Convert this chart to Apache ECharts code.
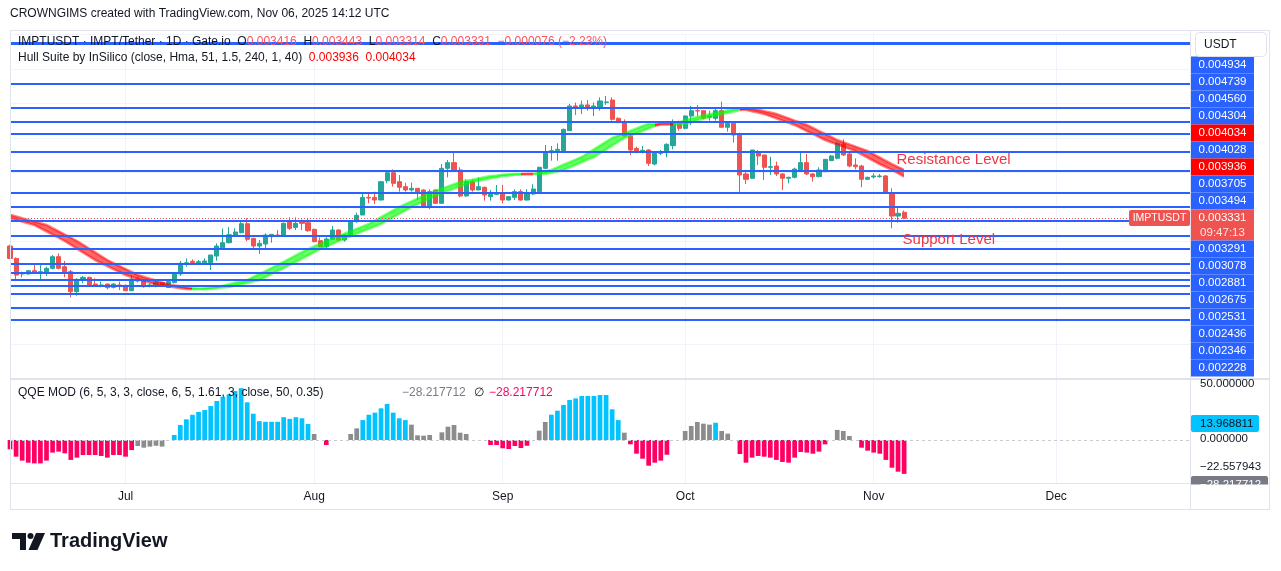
<!DOCTYPE html>
<html><head><meta charset="utf-8"><title>IMPTUSDT</title>
<script src="https://cdn.jsdelivr.net/npm/echarts@6.0.0/dist/echarts.min.js"></script>
<style>html,body{margin:0;padding:0;background:#fff;overflow:hidden}#chart{width:1281px;height:571px}</style>
</head><body><div id="chart"></div>
<script>
// ================= DATA (prices in micro-USDT, i.e. value x 1e-6) =================
const firstDay = [2025, 5, 12];   // 12 Jun 2025 (month is 0-based)
const dayCount = 195;             // axis runs to 23 Dec 2025
const monthNames = ['Jan','Feb','Mar','Apr','May','Jun','Jul','Aug','Sep','Oct','Nov','Dec'];

const openP = [
2926,2746,2519,2519,2567,2538,2528,2601,2771,2625,
2553,2262,2431,2470,2373,2344,2373,2325,2359,2354,
2276,2446,2431,2344,2344,2393,2325,2393,2519,2664,
2703,2683,2683,2683,2780,2900,2974,3072,3120,3250,
3037,2926,2955,3062,3086,3086,3280,3197,3290,3265,
3168,3004,2916,3023,3159,3013,3086,3280,3377,3634,
3634,3595,3876,3993,3862,3789,3741,3765,3741,3498,
3741,3547,4056,4139,4032,3654,3862,3741,3780,3644,
3678,3702,3595,3634,3717,3595,3683,3717,4056,4284,
4313,4299,4604,4963,4929,4978,4943,4929,5012,5050,
4783,4735,4527,4347,4308,4323,4119,4274,4284,4386,
4735,4638,4817,4895,4895,4798,4783,4895,4653,4711,
4541,3974,3911,4299,4250,4071,4090,3974,3911,3925,
4032,4139,3974,3935,4008,4168,4202,4410,4265,4105,
4090,3896,3930,3935,3945,3702,3362,3416];
const highP = [
2945,2760,2553,2575,2674,2649,2625,2795,2819,2708,
2577,2456,2490,2480,2456,2407,2378,2383,2407,2364,
2504,2480,2441,2383,2422,2402,2417,2538,2708,2746,
2732,2722,2746,2795,2965,3180,3200,3183,3304,3330,
3045,3013,3110,3096,3159,3265,3343,3343,3314,3328,
3178,3052,3052,3217,3168,3100,3304,3411,3692,3692,
3717,3872,4032,4041,3959,3847,3848,3770,3750,3750,
3750,4119,4177,4299,4071,3896,3896,3925,3790,3741,
3814,3814,3654,3751,3751,3751,3824,4080,4396,4381,
4420,4633,4992,5012,5041,5050,5012,5089,5109,5089,
4798,4769,4566,4371,4381,4333,4308,4323,4420,4769,
4750,4827,4963,4978,4895,4895,4929,5026,4720,4711,
4575,4032,4323,4323,4250,4226,4153,3984,3935,4066,
4299,4264,3984,4071,4187,4250,4444,4478,4284,4202,
4105,3935,3984,3974,3959,3765,3489,3443];
const lowP = [
2735,2421,2470,2510,2520,2441,2490,2586,2586,2470,
2179,2203,2383,2350,2344,2325,2296,2310,2286,2270,
2270,2393,2320,2325,2325,2335,2315,2383,2494,2625,
2649,2649,2659,2577,2712,2877,2965,3062,3110,2995,
2868,2810,2892,2974,3062,3076,3159,3159,3159,3134,
2980,2906,2892,3013,3004,2989,3052,3265,3377,3546,
3537,3590,3838,3789,3716,3716,3717,3595,3480,3460,
3537,3537,3925,4022,3634,3644,3717,3741,3586,3586,
3668,3547,3590,3595,3586,3586,3668,3717,4042,4167,
4167,4299,4604,4832,4846,4895,4817,4895,4978,4750,
4715,4517,4250,4274,4274,4090,4100,4250,4216,4333,
4604,4623,4686,4808,4769,4750,4750,4653,4590,4430,
3692,3828,3911,4105,3886,3959,3945,3741,3838,3911,
4008,3959,3862,3925,4003,4163,4187,4236,4071,4041,
3780,3886,3911,3920,3683,3183,3265,3314];
const closeP = [
2745,2504,2538,2567,2528,2553,2601,2771,2601,2528,
2262,2441,2470,2359,2354,2359,2320,2373,2344,2276,
2446,2417,2334,2359,2393,2344,2407,2519,2674,2683,
2683,2698,2708,2795,2926,2974,3090,3130,3250,3023,
2926,2965,3086,3096,3076,3256,3183,3256,3256,3149,
2989,2916,3028,3159,3013,3086,3294,3372,3634,3624,
3595,3862,3993,3838,3780,3741,3765,3692,3489,3717,
3547,4056,4139,4032,3654,3862,3741,3789,3668,3678,
3702,3595,3644,3717,3595,3683,3755,4071,4299,4313,
4333,4623,4963,4929,4978,4929,4963,5036,5022,4769,
4720,4527,4323,4299,4318,4129,4299,4299,4405,4735,
4638,4817,4895,4890,4783,4817,4895,4653,4711,4541,
3959,3896,4323,4235,4071,4080,3974,3911,3925,4046,
4139,3974,3935,4032,4187,4235,4420,4250,4090,4080,
3896,3925,3945,3945,3692,3362,3401,3331];

// Hull Suite: current hull (MHULL) and hull two bars back (SHULL)
const hullMain = [
3330,3306,3281,3257,3232,3185,3139,3092,3046,2999,
2944,2888,2833,2777,2722,2678,2635,2591,2548,2504,
2476,2449,2421,2394,2366,2353,2340,2326,2313,2300,
2296,2305,2313,2322,2330,2350,2370,2391,2411,2431,
2475,2519,2562,2606,2650,2696,2743,2789,2836,2882,
2920,2958,2996,3034,3072,3107,3142,3176,3211,3246,
3296,3345,3395,3444,3494,3535,3575,3616,3656,3697,
3729,3761,3793,3825,3857,3875,3892,3910,3927,3945,
3952,3962,3970,3975,3974,3972,3973,3990,4010,4032,
4070,4108,4145,4183,4221,4276,4331,4387,4442,4497,
4532,4567,4602,4637,4672,4700,4702,4699,4698,4697,
4725,4755,4780,4803,4825,4844,4863,4881,4900,4919,
4927,4907,4887,4867,4847,4815,4783,4751,4719,4687,
4643,4599,4556,4512,4468,4436,4404,4372,4340,4308,
4260,4212,4164,4116,4075,4034,3985,3936];
const hullLag = [
3380,3355,3330,3306,3281,3257,3232,3185,3139,3092,
3046,2999,2944,2888,2833,2777,2722,2678,2635,2591,
2548,2504,2476,2449,2421,2394,2366,2353,2340,2326,
2313,2300,2296,2305,2313,2322,2330,2350,2370,2391,
2411,2431,2475,2519,2562,2606,2650,2696,2743,2789,
2836,2882,2920,2958,2996,3034,3072,3107,3142,3176,
3211,3246,3296,3345,3395,3444,3494,3535,3575,3616,
3656,3697,3729,3761,3793,3825,3857,3875,3892,3910,
3927,3945,3952,3962,3970,3975,3974,3972,3973,3990,
4010,4032,4070,4108,4145,4183,4221,4276,4331,4387,
4442,4497,4532,4567,4602,4637,4672,4700,4702,4699,
4698,4697,4725,4755,4780,4803,4825,4844,4863,4881,
4900,4919,4927,4907,4887,4867,4847,4815,4783,4751,
4719,4687,4643,4599,4556,4512,4468,4436,4404,4372,
4340,4308,4260,4212,4164,4116,4075,4034];

// Horizontal level lines (drawn by the author)
const levelPrices = [5880,5283,4934,4739,4560,4304,4028,3705,3494,3291,3078,2881,2675,2531,2436,2346,2228,2027,1850];
const lastPrice = 3331;

// QQE MOD histogram
const qqeHist = [
-7.8,-13.9,-17.2,-18.9,-19.5,-19.5,-17.2,-10.5,-9.7,-11.1,
-16.6,-14.7,-12.5,-12.5,-12.5,-13.3,-14.7,-12.5,-12.5,-13.9,
-8.4,-5.0,-6.4,-5.5,-4.8,-5.5,null,4.2,12.5,17.2,
21.0,23.4,25.0,28.3,32.5,36.1,38.0,40.8,43.2,31.4,
21.9,15.7,15.2,15.2,15.2,19.0,17.6,19.0,18.1,13.3,
5.0,null,-4.2,null,null,null,5.0,9.7,16.6,21.1,
22.8,26.4,30.0,22.8,18.1,16.6,12.8,3.9,3.6,4.2,
null,6.4,11.1,12.5,6.1,5.0,null,null,null,-4.2,
-4.2,-6.9,-7.5,-5.0,-6.7,-4.8,null,7.8,15.0,21.1,
24.4,29.2,33.3,34.7,36.7,36.7,36.7,37.5,37.5,25.6,
16.6,6.1,-3.6,-11.4,-15.6,-21.4,-18.9,-17.2,-12.3,null,
null,7.5,11.7,15.0,13.6,12.8,14.4,7.5,5.3,null,
-11.7,-18.9,-14.7,-13.3,-13.9,-14.7,-16.6,-18.3,-18.9,-14.7,
-10.0,-10.5,-11.4,-9.7,-3.6,null,8.4,7.5,3.3,null,
-6.4,-8.9,-10.5,-11.4,-16.6,-23.1,-26.4,-28.22];
// u = strong up (blue), d = strong down (pink), n = neutral (gray), - = none
const qqeState = ('dddddddddd'+'dddddddddd'+'dnnnnn-uuu'+'uuuuuuuuuu'+'uuuuuuuuuu'+
  'n-d---nnuu'+'uuuuuunnnn'+'-nnnnn---d'+'dddddd-nnu'+'uuuuuuuuuu'+
  'unddddddd-'+'-nnnnnunn-'+'dddddddddd'+'ddddd-nnn-'+'dddddddd').split('');

// Price-scale tags (text, kind)
const priceTags = [
 ['0.004934','lvl'],['0.004739','lvl'],['0.004560','lvl'],['0.004304','lvl'],['0.004034','hull'],
 ['0.004028','lvl'],['0.003936','hull'],['0.003705','lvl'],['0.003494','lvl'],['0.003331','last'],
 ['0.003291','lvl'],['0.003078','lvl'],['0.002881','lvl'],['0.002675','lvl'],['0.002531','lvl'],
 ['0.002436','lvl'],['0.002346','lvl'],['0.002228','lvl']];

// ================= CHART =================
const FONT = "'Liberation Sans', Arial, sans-serif";
const UP = '#26a69a', DOWN = '#ef5350', LEVEL = '#2962ff';
const qqeColors = {u:'#00c3ff', d:'#ff0062', n:'#8c8c8c'};

const dates = [];
for (let k = 0; k < dayCount; k++) {
  const d = new Date(Date.UTC(firstDay[0], firstDay[1], firstDay[2] + k));
  dates.push(d.toISOString().slice(0, 10));
}
const isMonthStart = (i, v) => String(v).slice(8) === '01';

const candles = openP.map((o, i) => [o, closeP[i], lowP[i], highP[i]]);
const hullLow = hullMain.map((m, i) => Math.min(m, hullLag[i]));
const hullGap = hullMain.map((m, i) => Math.abs(m - hullLag[i]));
const hullUp = i => hullMain[i] >= hullLag[i];
const hullPieces = [];
let rs = 0;
for (let i = 1; i <= hullMain.length; i++) {
  if (i === hullMain.length || hullUp(i) !== hullUp(rs)) {
    hullPieces.push({gt: rs - 1, lte: i - 1, color: hullUp(rs) ? '#00ff00' : '#ff0000'});
    rs = i;
  }
}

const qqeData = qqeHist.map((v, i) => v === null ? null : {value: v, itemStyle: {color: qqeColors[qqeState[i]]}});

// ---------- graphic overlay ----------
const gfx = [];
function T(x, y, text, o) {
  o = o || {};
  gfx.push({type:'text', x:x, y:y, z:o.z || 130, silent:true,
    style:{text:text, fill:o.fill || '#131722', font:(o.weight ? o.weight + ' ' : '') + (o.size || 12) + 'px ' + FONT,
      align:o.align || 'left', verticalAlign:'middle', rich:o.rich}});
}
function R(x, y, w, h, fill, z, r, stroke) {
  gfx.push({type:'rect', silent:true, z:z || 120, shape:{x:x, y:y, width:w, height:h, r:r || 0},
    style:{fill:fill, stroke:stroke || null, lineWidth:1}});
}
function Ln(x1, y1, x2, y2, c, w, z) {
  gfx.push({type:'line', silent:true, z:z || 115, shape:{x1:x1, y1:y1, x2:x2, y2:y2}, style:{stroke:c, lineWidth:w || 1}});
}
// frame
const FR = '#e0e3eb';
Ln(10, 30.5, 1270, 30.5, FR); Ln(10.5, 30, 10.5, 510, FR); Ln(1269.5, 30, 1269.5, 510, FR);
Ln(10, 509.5, 1270, 509.5, FR); Ln(1190.5, 30, 1190.5, 510, FR);
Ln(10, 379, 1270, 379, FR, 2); Ln(10, 483.5, 1270, 483.5, FR);

// header & legends
T(10, 14, 'CROWNGIMS created with TradingView.com, Nov 06, 2025 14:12 UTC', {size:12});
const rk = {k:{fill:'#131722', font:'12px ' + FONT}, v:{fill:'#f7525f', font:'12px ' + FONT}, h:{fill:'#ff0000', font:'12px ' + FONT}};
T(18, 42, '{k|IMPTUSDT · IMPT/Tether · 1D · Gate.io  O}{v|0.003416}{k|  H}{v|0.003443}{k|  L}{v|0.003314}{k|  C}{v|0.003331}{v|  −0.000076 (−2.23%)}', {rich:rk});
T(18, 58, '{k|Hull Suite by InSilico (close, Hma, 51, 1.5, 240, 1, 40)}{h|  0.003936  0.004034}', {rich:rk});
T(18, 393, 'QQE MOD (6, 5, 3, 3, close, 6, 5, 1.61, 3, close, 50, 0.35)', {size:12});
T(402, 393, '−28.217712', {size:12, fill:'#787b86'});
T(474, 393, '∅', {size:12, fill:'#131722'});
T(489, 393, '−28.217712', {size:12, fill:'#ff0062'});

// USDT box
R(1195.5, 32.5, 71, 24, '#ffffff', 125, 4, FR);
T(1204, 44.5, 'USDT', {size:12});

// stacked price tags
let yTop = 56.5;
priceTags.forEach(function (t) {
  const kind = t[1];
  const h = kind === 'last' ? 31 : 17;
  const fill = kind === 'hull' ? '#ff0000' : (kind === 'last' ? DOWN : LEVEL);
  R(1191, yTop, 63, h, fill, 120);
  T(1222.5, yTop + 8.5, t[0], {size:11.5, fill:'#ffffff', align:'center', z:131});
  if (kind === 'last') T(1222.5, yTop + 23, '09:47:13', {size:11.5, fill:'#ffe5e5', align:'center', z:131});
  yTop += h;
});
// symbol tag on the last-price line
R(1129, 210, 61, 16, DOWN, 120, 2);
T(1159.5, 218, 'IMPTUSDT', {size:10.5, fill:'#ffffff', align:'center', z:131});

// QQE scale
T(1200, 384, '50.000000', {size:11.5});
R(1191, 415, 68, 17, '#00c3ff', 120, 2);
T(1200, 423.5, '13.968811', {size:11.5, fill:'#131722', z:131});
T(1200, 439, '0.000000', {size:11.5});
T(1200, 467, '−22.557943', {size:11.5});
R(1191, 476, 77, 17, '#787b86', 120, 2);
T(1200, 485, '−28.217712', {size:11.5, fill:'#ffffff', z:131});
R(1191, 484.5, 78, 24.5, '#ffffff', 132);
Ln(1190.5, 484, 1190.5, 510, FR, 1, 133);

// TradingView logo
gfx.push({type:'rect', silent:true, z:130, shape:{x:12, y:533, width:14, height:6}, style:{fill:'#131722'}});
gfx.push({type:'rect', silent:true, z:130, shape:{x:20, y:533, width:6, height:17}, style:{fill:'#131722'}});
gfx.push({type:'circle', silent:true, z:130, shape:{cx:30.5, cy:536, r:3}, style:{fill:'#131722'}});
gfx.push({type:'polygon', silent:true, z:130, shape:{points:[[36,533],[45,533],[37.5,550],[28.5,550]]}, style:{fill:'#131722'}});
T(50, 541.5, 'TradingView', {size:20, weight:'bold'});

const option = {
  animation: false,
  backgroundColor: '#ffffff',
  textStyle: {fontFamily: FONT},
  grid: [
    {left: 10, top: 34.7, width: 1180, height: 343.7, containLabel: false, outerBoundsMode: 'none'},
    {left: 10, top: 380, width: 1180, height: 103, containLabel: false, outerBoundsMode: 'none'}
  ],
  xAxis: [
    {type:'category', gridIndex:0, data:dates, boundaryGap:false,
      axisLine:{show:false}, axisTick:{show:false}, axisLabel:{show:false},
      splitLine:{show:true, interval:isMonthStart, lineStyle:{color:'#f0f3fa', width:1}}},
    {type:'category', gridIndex:1, data:dates, boundaryGap:false,
      axisLine:{show:false}, axisTick:{show:false},
      axisLabel:{show:true, interval:isMonthStart, margin:8, color:'#131722', fontSize:12, fontFamily:FONT,
        formatter: v => monthNames[parseInt(v.slice(5, 7), 10) - 1]},
      splitLine:{show:true, interval:isMonthStart, lineStyle:{color:'#f0f3fa', width:1}}}
  ],
  yAxis: [
    {type:'value', gridIndex:0, min:1000, max:6000, interval:500, position:'right', scale:false,
      axisLine:{show:false}, axisTick:{show:false}, axisLabel:{show:false},
      splitLine:{show:true, lineStyle:{color:'#f0f3fa', width:1}}},
    {type:'value', gridIndex:1, min:-35.83, max:50, position:'right',
      axisLine:{show:false}, axisTick:{show:false}, axisLabel:{show:false}, splitLine:{show:false}}
  ],
  visualMap: [{type:'piecewise', show:false, dimension:0, seriesIndex:[2, 3, 4], pieces:hullPieces}],
  series: [
    {type:'candlestick', name:'IMPTUSDT', xAxisIndex:0, yAxisIndex:0, data:candles, barWidth:4.6, z:3, silent:true,
      itemStyle:{color:UP, color0:DOWN, borderColor:UP, borderColor0:DOWN, borderWidth:1}},
    {type:'line', name:'hullBase', xAxisIndex:0, yAxisIndex:0, data:hullLow, stack:'hull', symbol:'none', silent:true, z:4,
      lineStyle:{opacity:0, width:0}},
    {type:'line', name:'hullFill', xAxisIndex:0, yAxisIndex:0, data:hullGap, stack:'hull', symbol:'none', silent:true, z:4,
      lineStyle:{width:0, opacity:0}, areaStyle:{opacity:0.6}},
    {type:'line', name:'MHULL', xAxisIndex:0, yAxisIndex:0, data:hullMain, symbol:'none', silent:true, z:4,
      lineStyle:{width:2.5, opacity:0.5}},
    {type:'line', name:'SHULL', xAxisIndex:0, yAxisIndex:0, data:hullLag, symbol:'none', silent:true, z:4,
      lineStyle:{width:2.5, opacity:0.5}},
    {type:'line', name:'levels', xAxisIndex:0, yAxisIndex:0, data:[], silent:true, z:6,
      markLine:{silent:true, symbol:['none', 'none'], label:{show:false}, animation:false,
        data: levelPrices.map(p => ({yAxis:p, lineStyle:{color:LEVEL, width:p === 5880 ? 3 : 2, type:'solid'}}))
          .concat([{yAxis:lastPrice, lineStyle:{color:DOWN, width:1, type:[1, 2]}}])},
      markPoint:{silent:true, symbol:'circle', symbolSize:1, itemStyle:{color:'rgba(0,0,0,0)'},
        label:{show:true, position:'right', distance:4, color:'#f23645', fontSize:15, fontFamily:FONT},
        data:[
          {coord:[dates[145], 4185], label:{formatter:'Resistance Level'}},
          {coord:[dates[146], 3013], label:{formatter:'Support Level'}}
        ]}},
    {type:'bar', name:'QQE', xAxisIndex:1, yAxisIndex:1, data:qqeData, barWidth:4.7, silent:true, z:3,
      markLine:{silent:true, symbol:['none', 'none'], label:{show:false},
        lineStyle:{color:'#c8cbd3', type:[3, 3], width:1}, data:[{yAxis:0}]}}
  ],
  graphic: gfx
};
const chart = echarts.init(document.getElementById('chart'), null, {renderer:'canvas', width:1281, height:571});
chart.setOption(option);
</script>
</body></html>
